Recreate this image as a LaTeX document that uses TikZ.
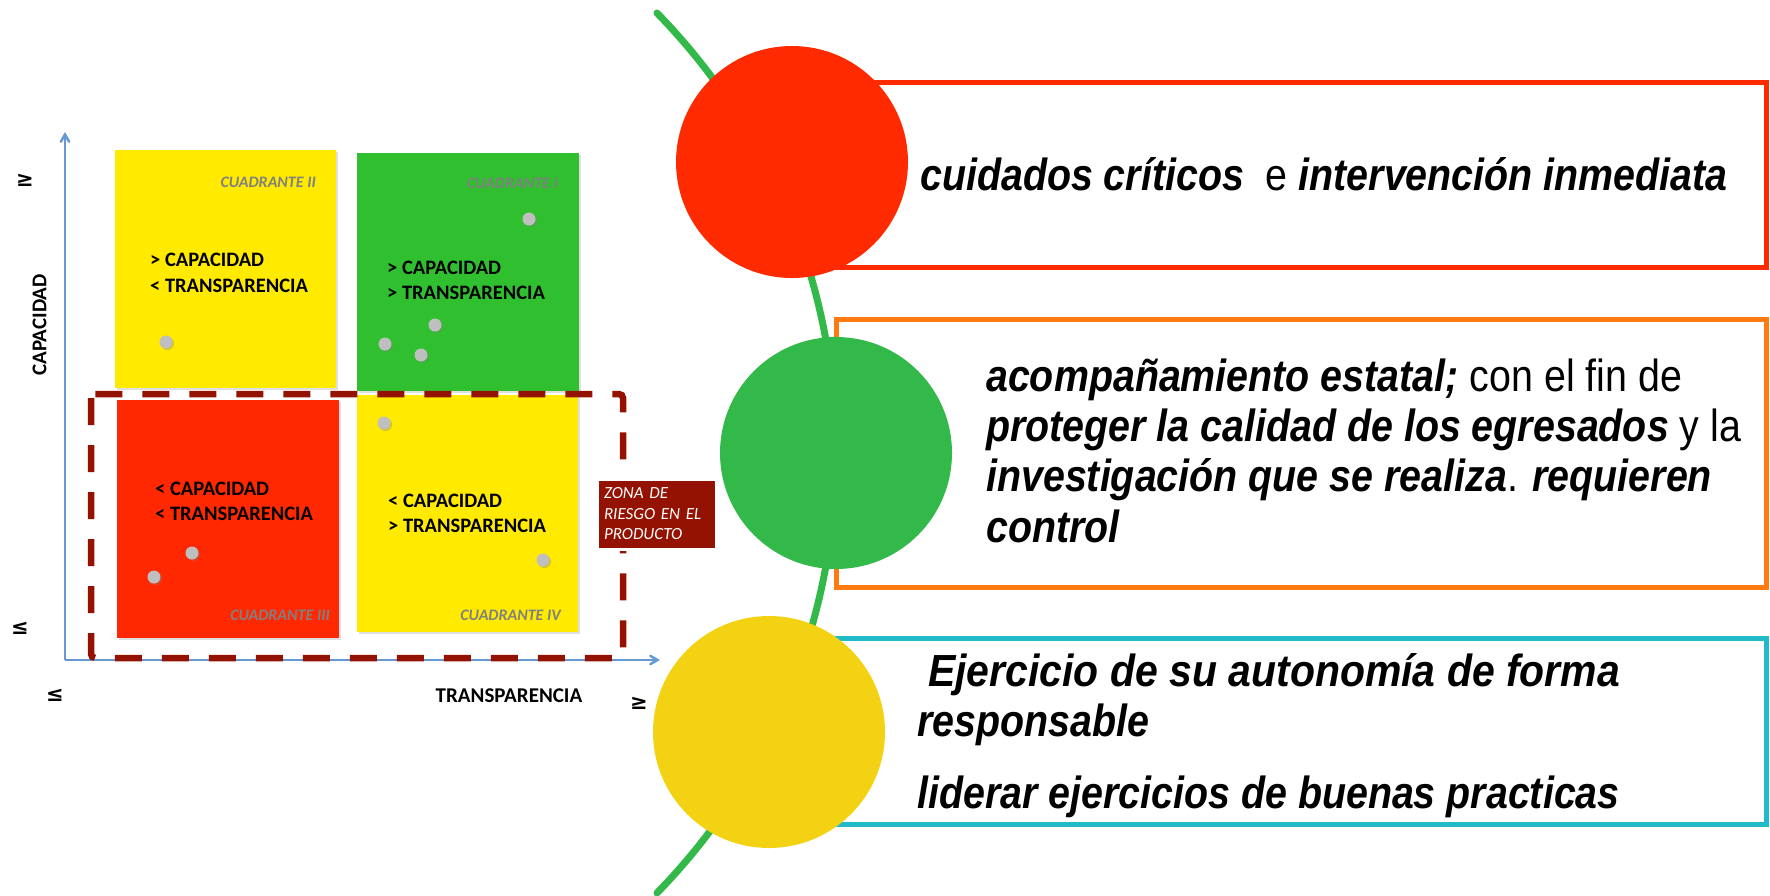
\documentclass[tikz,border=0pt]{standalone}
\usepackage{fontspec}
\setmainfont{Liberation Sans}
\newfontfamily\calib{Carlito}
\newfontfamily\narrow[FakeStretch=0.875]{Liberation Sans}
\newfontfamily\symb{DejaVu Sans}
\usetikzlibrary{arrows}
\usetikzlibrary{shadows}
\definecolor{qred}{RGB}{255,40,0}
\definecolor{qyellow}{RGB}{255,234,0}
\definecolor{qgreen}{RGB}{47,191,47}
\definecolor{riesgo}{RGB}{148,18,2}
\definecolor{eje}{RGB}{102,152,210}
\definecolor{cred}{RGB}{255,42,0}
\definecolor{cgreen}{RGB}{51,184,74}
\definecolor{cyellow}{RGB}{243,210,19}
\definecolor{lorange}{RGB}{255,122,16}
\definecolor{lcyan}{RGB}{32,186,200}
\newcommand{\bi}[1]{\textbf{\textit{#1}}}

\tikzset{
  quad/.style={rectangle, anchor=north west, inner sep=0pt,
    drop shadow={shadow xshift=2pt, shadow yshift=-2pt, opacity=0.25}},
  quadtext/.style={anchor=west, align=left, inner sep=0pt,
    font=\calib\bfseries\fontsize{20.5}{25.5}\selectfont},
  quadname/.style={anchor=east, inner sep=0pt, text=gray,
    font=\calib\bfseries\itshape\fontsize{16}{19}\selectfont},
  punto/.style={circle, fill=black!25, minimum size=13pt, inner sep=0pt,
    drop shadow={shadow xshift=1.5pt, shadow yshift=-1.5pt, opacity=0.35}},
  axislabel/.style={inner sep=0pt, font=\calib\bfseries\fontsize{21}{24}\selectfont},
  sign/.style={inner sep=0pt, font=\symb\bfseries\fontsize{21}{24}\selectfont},
  semaforo/.style={circle, minimum size=232pt, inner sep=0pt},
  marco/.style={line width=5pt},
  linea/.style={anchor=base west, inner sep=0pt,
    font=\narrow\fontsize{45}{51}\selectfont}
}

\begin{document}
\begin{tikzpicture}[x=1pt, y=-1pt, >=angle 60]
  \useasboundingbox (0,0) rectangle (1770,895);

  \node[quad, fill=qyellow, minimum width=221pt, minimum height=238pt] (qII) at (115,150) {};
  \node[quad, fill=qgreen, minimum width=222pt, minimum height=238pt] (qI) at (357,153) {};
  \node[quad, fill=qred, minimum width=222pt, minimum height=238pt] (qIII) at (117,400) {};
  \node[quad, fill=qyellow, minimum width=221pt, minimum height=237pt] (qIV) at (357,395) {};

  \node[quadname] (nII) at (316,182) {CUADRANTE II};
  \node[quadname] (nI) at (558,183) {CUADRANTE I};
  \node[quadname] (nIII) at (330,615) {CUADRANTE III};
  \node[quadname] (nIV) at (561,615) {CUADRANTE IV};

  \node[quadtext] (tII) at (150,273) {> CAPACIDAD\\< TRANSPARENCIA};
  \node[quadtext] (tI) at (387,280.5) {> CAPACIDAD\\> TRANSPARENCIA};
  \node[quadtext] (tIII) at (155,501.5) {< CAPACIDAD\\< TRANSPARENCIA};
  \node[quadtext] (tIV) at (388,513.5) {< CAPACIDAD\\> TRANSPARENCIA};

  \node[punto] (p1) at (166,342) {};
  \node[punto] (p2) at (529,219) {};
  \node[punto] (p3) at (435,325) {};
  \node[punto] (p4) at (385,344) {};
  \node[punto] (p5) at (421,355) {};
  \node[punto] (p6) at (192,553) {};
  \node[punto] (p7) at (154,577) {};
  \node[punto] (p8) at (384,423) {};
  \node[punto] (p9) at (543,560) {};

  \coordinate (o) at (65,660);
  \coordinate (ytop) at (65,132);
  \coordinate (xend) at (660,660);
  \draw[->, eje, line width=2.5pt] (o) -- (ytop);
  \draw[->, eje, line width=2.5pt] (o) -- (xend);

  \draw[riesgo, line width=6.5pt, dash pattern=on 27pt off 20pt, rounded corners=4pt]
    (91,394) rectangle (623,658);

  \node[fill=riesgo, draw=white, line width=3pt, text=white, align=left,
    text width=105pt, inner xsep=7pt, minimum height=70pt,
    font=\calib\itshape\fontsize{17}{20.5}\selectfont,
    drop shadow={shadow xshift=2pt, shadow yshift=-2pt, opacity=0.3}]
    (zona) at (656.5,514) {ZONA DE\\RIESGO EN EL\\PRODUCTO};

  \node[axislabel, rotate=90] (cap) at (39.5,325) {CAPACIDAD};
  \node[axislabel] (tra) at (509,696) {TRANSPARENCIA};
  \node[sign] (s1) at (25,180) {≥};
  \node[sign] (s2) at (20,628) {≤};
  \node[sign] (s3) at (55,695) {≤};
  \node[sign] (s4) at (639,703) {≥};

  \draw[cgreen, line width=7pt, line cap=round]
    (657,13) arc[start angle=-44.3, end angle=44.3, radius=630];

  \draw[marco, cred] (792,82) rectangle (1766,267);
  \draw[marco, lorange] (836,319) rectangle (1766,587);
  \draw[marco, lcyan] (769,638) rectangle (1766,824);

  \node[semaforo, fill=cred] (rojo) at (792,162) {};
  \node[semaforo, fill=cgreen] (verde) at (836,453) {};
  \node[semaforo, fill=cyellow] (amarillo) at (769,732) {};

  \node[linea] (r1) at (920,190) {\bi{cuidados críticos}\ \ e \bi{intervención inmediata}};

  \node[linea] (g1) at (986,391) {\bi{acompañamiento estatal;} con el fin de};
  \node[linea] (g2) at (986,441) {\bi{proteger la calidad de los egresados} y la};
  \node[linea] (g3) at (986,491) {\bi{investigación que se realiza}. \bi{requieren}};
  \node[linea] (g4) at (986,542) {\bi{control}};

  \node[linea] (y1) at (928,686) {\scalebox{1.04}[1]{\bi{Ejercicio de su autonomía de forma}}};
  \node[linea] (y2) at (917,736) {\bi{responsable}};
  \node[linea] (y3) at (917,808) {\bi{liderar ejercicios de buenas practicas}};
\end{tikzpicture}
\end{document}
